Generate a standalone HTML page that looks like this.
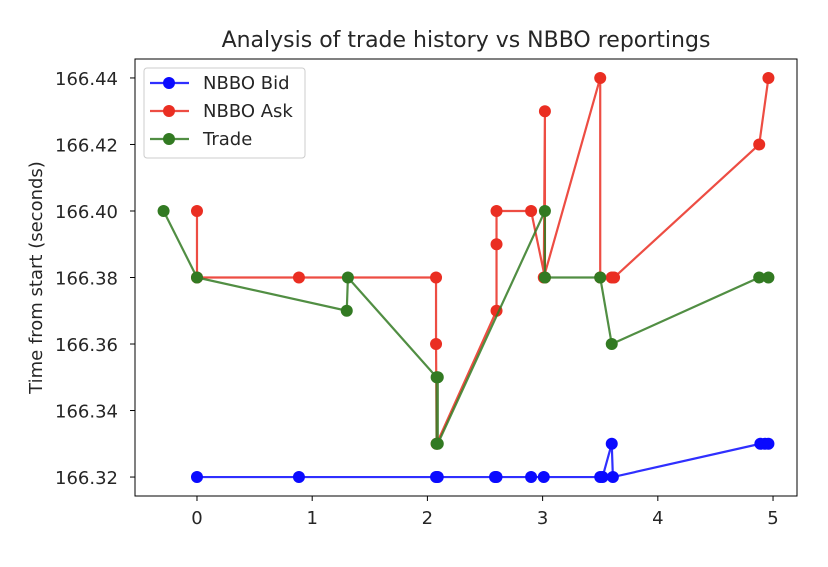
<!DOCTYPE html>
<html><head><meta charset="utf-8"><style>
body{margin:0;background:#fff;}
svg text{font-family:"DejaVu Sans","Liberation Sans",sans-serif;fill:#262626;}
</style></head><body>
<svg width="828" height="562">
<g id="plot"></g>
</svg>
<script>
const bidX=[0,0.885,2.075,2.09,2.587,2.6,2.9,3.01,3.5,3.52,3.6,3.61,4.89,4.93,4.96];
const bidY=[166.32,166.32,166.32,166.32,166.32,166.32,166.32,166.32,166.32,166.32,166.33,166.32,166.33,166.33,166.33];
const askX=[0,0,0.885,2.075,2.075,2.08,2.6,2.6,2.6,2.9,3.02,3.02,3.01,3.5,3.5,3.6,3.62,4.88,4.96];
const askY=[166.40,166.38,166.38,166.38,166.36,166.33,166.37,166.39,166.40,166.40,166.38,166.43,166.38,166.44,166.38,166.38,166.38,166.42,166.44];
const trX=[-0.29,0,1.3,1.31,2.08,2.08,2.09,2.09,3.02,3.02,3.5,3.6,4.88,4.96];
const trY=[166.40,166.38,166.37,166.38,166.35,166.33,166.35,166.33,166.40,166.38,166.38,166.36,166.38,166.38];
const xTicks=[0,1,2,3,4,5];
const yTicks=[166.32,166.34,166.36,166.38,166.40,166.42,166.44];
const L=135,R=797,T=59,B=496;
const xmin=-0.538,xmax=5.208,ymin=166.3143,ymax=166.4457;
const sx=v=>L+(v-xmin)/(xmax-xmin)*(R-L);
const sy=v=>B-(v-ymin)/(ymax-ymin)*(B-T);
const NS="http://www.w3.org/2000/svg";
const g=document.getElementById('plot');
function mk(t,a,p){const e=document.createElementNS(NS,t);for(const k in a)e.setAttribute(k,a[k]);(p||g).appendChild(e);return e;}
const frame=mk('rect',{x:L,y:T,width:R-L,height:B-T,fill:'none',stroke:'#000','stroke-width':1});


xTicks.forEach(v=>{
  const l=mk('line',{x1:sx(v),x2:sx(v),y1:B,y2:B+5,stroke:'#000'});
  
  
  const t=mk('text',{x:sx(v),y:B+28,'text-anchor':'middle','font-size':18});
  t.textContent=v;
  
  
});
yTicks.forEach(v=>{
  const l=mk('line',{x1:L-5,x2:L,y1:sy(v),y2:sy(v),stroke:'#000'});
  
  
  const t=mk('text',{x:L-17,y:sy(v)+7,'text-anchor':'end','font-size':18});
  t.textContent=v.toFixed(2);
  
  
});
const title=mk('text',{x:(L+R)/2,y:47,'text-anchor':'middle','font-size':22});
title.textContent='Analysis of trade history vs NBBO reportings';


const yl=mk('text',{x:42,y:(T+B)/2,'text-anchor':'middle','font-size':18,transform:`rotate(-90 42 ${(T+B)/2})`});
yl.textContent='Time from start (seconds)';


function series(xs,ys,col,name){
  const s=mk('g',{});
  
  
  const p=mk('polyline',{points:xs.map((x,i)=>sx(x)+','+sy(ys[i])).join(' '),fill:'none',stroke:col,'stroke-width':2.2,'stroke-opacity':0.85},s);
  
  
  xs.forEach((x,i)=>{
    const c=mk('circle',{cx:sx(x),cy:sy(ys[i]),r:6,fill:col},s);
    
    
  });
}
series(bidX,bidY,'#0a0aff','nbbo-bid');
series(askX,askY,'#ea2e22','nbbo-ask');
series(trX,trY,'#327a22','trade');
const lg=mk('g',{});


mk('rect',{x:144,y:68,width:161,height:90,rx:3,fill:'#fff','fill-opacity':0.8,stroke:'#ccc'},lg);
[['NBBO Bid','#0a0aff'],['NBBO Ask','#ea2e22'],['Trade','#327a22']].forEach((d,i)=>{
  const y=83+i*28;
  const e=mk('g',{},lg);
  
  
  mk('line',{x1:150,x2:189,y1:y,y2:y,stroke:d[1],'stroke-width':2.2,'stroke-opacity':0.85},e);
  mk('circle',{cx:169,cy:y,r:6,fill:d[1]},e);
  const t=mk('text',{x:203,y:y+6,'font-size':18},e);
  t.textContent=d[0];
});
</script>
</body></html>
